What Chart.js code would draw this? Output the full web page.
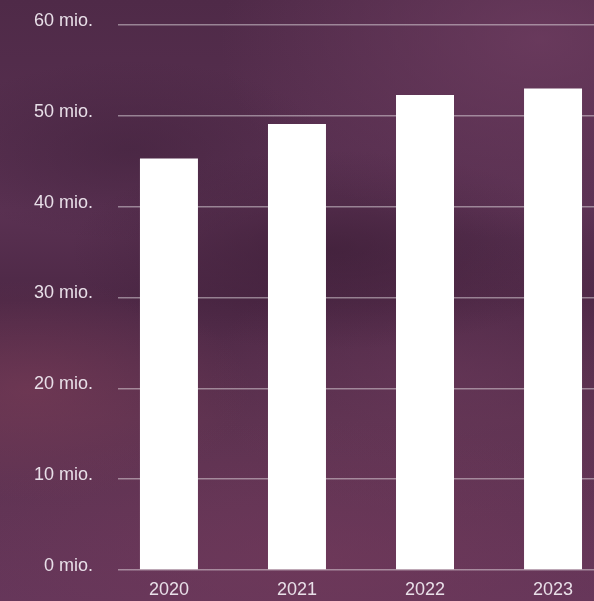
<!DOCTYPE html>
<html>
<head>
<meta charset="utf-8">
<script src="https://cdn.jsdelivr.net/npm/chart.js@4.4.1/dist/chart.umd.min.js"></script>
<style>
  html, body { margin: 0; padding: 0; width: 594px; height: 601px; overflow: hidden; }
  body {
    background:
      radial-gradient(ellipse 220px 110px at 30px 390px, rgba(128,62,88,0.5), rgba(128,62,88,0) 100%),
      radial-gradient(ellipse 320px 200px at 540px 40px, rgba(112,62,98,0.75), rgba(112,62,98,0) 100%),
      radial-gradient(ellipse 260px 100px at 330px 250px, rgba(58,28,52,0.6), rgba(58,28,52,0) 100%),
      radial-gradient(ellipse 200px 90px at 130px 150px, rgba(62,32,58,0.5), rgba(62,32,58,0) 100%),
      radial-gradient(ellipse 380px 140px at 320px 560px, rgba(116,58,90,0.55), rgba(116,58,90,0) 100%),
      radial-gradient(ellipse 240px 140px at 450px 380px, rgba(108,58,92,0.5), rgba(108,58,92,0) 100%),
      linear-gradient(180deg, #4f2a48 0%, #5a3152 35%, #4d2846 50%, #5d3250 70%, #65365a 100%);
  }
  canvas { display: block; }
</style>
</head>
<body>
<canvas id="c" width="594" height="601" style="width:594px;height:601px"></canvas>
<script>
const years = ['2020', '2021', '2022', '2023'];
const values = [45.3, 49.1, 52.3, 53.0];
const yTicks = [0, 10, 20, 30, 40, 50, 60];
const unitLabel = ' mio.';

const points = values.map((v, i) => ({ x: i, y: v }));

new Chart(document.getElementById('c'), {
  type: 'bar',
  data: {
    datasets: [{
      data: points,
      backgroundColor: '#ffffff',
      borderWidth: 0,
      categoryPercentage: 1,
      barPercentage: 0.453
    }]
  },
  options: {
    responsive: false,
    devicePixelRatio: 1,
    animation: false,
    layout: { padding: { top: 25, left: 0, right: 0, bottom: 0 } },
    plugins: { legend: { display: false }, tooltip: { enabled: false } },
    scales: {
      x: {
        type: 'linear',
        offset: false,
        min: -0.398,
        max: 3.32,
        grid: { display: false, offset: false },
        border: { display: false },
        afterBuildTicks: (s) => { s.ticks = years.map((_, i) => ({ value: i })); },
        afterFit: (s) => { s.height = 31; },
        ticks: {
          autoSkip: false,
          padding: 1,
          color: '#e8dfe8',
          font: { family: '"Liberation Sans", Arial, sans-serif', size: 18 },
          callback: (v) => years[v] !== undefined ? years[v] : ''
        }
      },
      y: {
        min: 0,
        max: 60,
        grid: {
          color: 'rgba(255,255,255,0.42)',
          lineWidth: 1.5,
          drawTicks: true,
          tickLength: 25,
          tickColor: 'rgba(0,0,0,0)'
        },
        border: { display: false },
        afterBuildTicks: (s) => { s.ticks = yTicks.map(v => ({ value: v })); },
        afterFit: (s) => { s.width = 118; },
        ticks: {
          padding: 0,
          labelOffset: -4,
          color: '#e8dfe8',
          font: { family: '"Liberation Sans", Arial, sans-serif', size: 18 },
          callback: (v) => v + unitLabel
        }
      }
    }
  }
});
</script>
</body>
</html>
